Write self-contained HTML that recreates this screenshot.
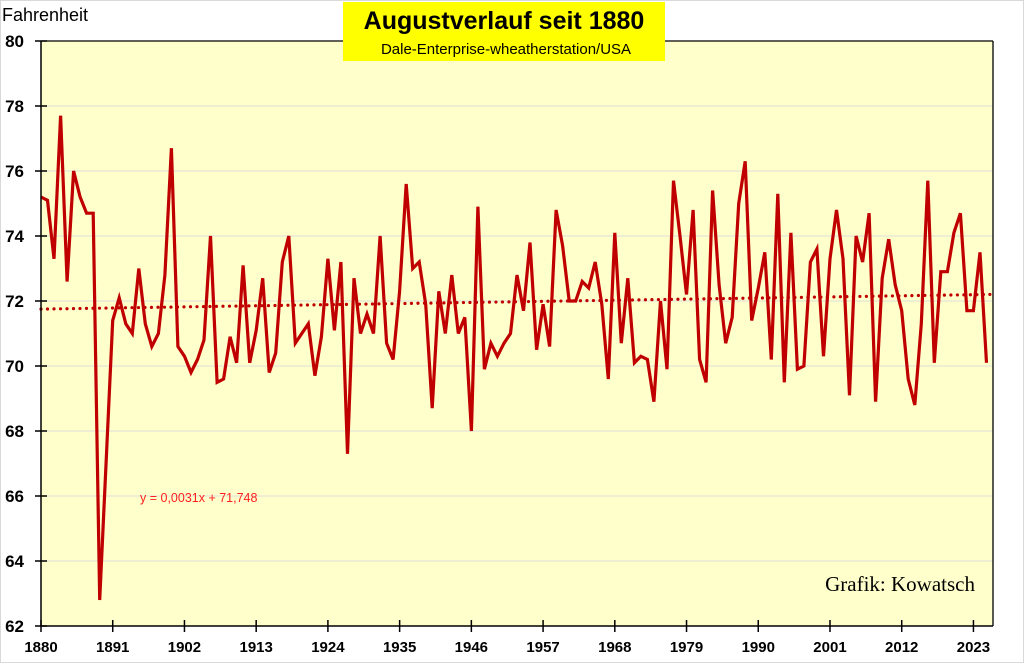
<!DOCTYPE html>
<html><head><meta charset="utf-8">
<style>
html,body{margin:0;padding:0;background:#fff;}
svg{display:block;font-family:"Liberation Sans",sans-serif;}
</style></head>
<body>
<svg id="chart" width="1024" height="663" viewBox="0 0 1024 663" xmlns="http://www.w3.org/2000/svg">
<rect x="0.5" y="0.5" width="1023" height="662" fill="#fff" stroke="#d9d9d9"/>
<rect x="41" y="41" width="952" height="585" fill="#FFFFCC"/>
<g id="grid"></g>
<g id="trend"></g>
<g id="series"></g>
<line x1="41" y1="41" x2="993" y2="41" stroke="#000" stroke-width="1.3"/>
<line x1="993" y1="41" x2="993" y2="626" stroke="#000" stroke-width="1.3"/>
<line x1="41" y1="41" x2="41" y2="626" stroke="#000" stroke-width="1.5"/>
<line x1="41" y1="626" x2="993" y2="626" stroke="#000" stroke-width="1.5"/>
<g id="yaxis"></g>
<g id="xaxis"></g>
<text x="2" y="21" font-size="18" fill="#000">Fahrenheit</text>
<rect x="343" y="2" width="322" height="59" fill="#ffff00"/>
<text x="504" y="29" font-size="25" font-weight="bold" text-anchor="middle" fill="#000">Augustverlauf seit 1880</text>
<text x="506" y="54" font-size="15" text-anchor="middle" fill="#000">Dale-Enterprise-wheatherstation/USA</text>
<text x="140" y="502" font-size="12.5" fill="#ff2020">y = 0,0031x + 71,748</text>
<text x="975" y="591" font-size="21" text-anchor="end" font-family="Liberation Serif,serif" fill="#000">Grafik: Kowatsch</text>
</svg>
<script>
const startYear = 1880;
const values = [75.2,75.1,73.3,77.7,72.6,76.0,75.2,74.7,74.7,62.8,67.1,71.4,72.1,71.3,71.0,73.0,71.3,70.6,71.0,72.8,
76.7,70.6,70.3,69.8,70.2,70.8,74.0,69.5,69.6,70.9,70.1,73.1,70.1,71.1,72.7,69.8,70.4,73.2,74.0,70.7,
71.0,71.3,69.7,70.9,73.3,71.1,73.2,67.3,72.7,71.0,71.6,71.0,74.0,70.7,70.2,72.3,75.6,73.0,73.2,71.9,
68.7,72.3,71.0,72.8,71.0,71.5,68.0,74.9,69.9,70.7,70.3,70.7,71.0,72.8,71.7,73.8,70.5,71.9,70.6,74.8,
73.7,72.0,72.0,72.6,72.4,73.2,71.9,69.6,74.1,70.7,72.7,70.1,70.3,70.2,68.9,72.0,69.9,75.7,74.0,72.2,
74.8,70.2,69.5,75.4,72.5,70.7,71.5,75.0,76.3,71.4,72.4,73.5,70.2,75.3,69.5,74.1,69.9,70.0,73.2,73.6,
70.3,73.3,74.8,73.3,69.1,74.0,73.2,74.7,68.9,72.7,73.9,72.5,71.7,69.6,68.8,71.3,75.7,70.1,72.9,72.9,
74.1,74.7,71.7,71.7,73.5,70.1];
const yTicks = [62,64,66,68,70,72,74,76,78,80];
const xTickYears = [1880,1891,1902,1913,1924,1935,1946,1957,1968,1979,1990,2001,2012,2023];
const trendSlope = 0.0031;
const trendIntercept = 71.748;

const NS = "http://www.w3.org/2000/svg";
const L = 41, T = 41, B = 626, step = 952/146;
const yMin = 62, yMax = 80;
function xs(i){ return L + i*step; }
function ys(v){ return B - (v - yMin)/(yMax - yMin)*(B - T); }
function mk(tag, attrs, parent){ const e=document.createElementNS(NS,tag); for(const k in attrs) e.setAttribute(k,attrs[k]); parent.appendChild(e); return e; }

const grid=document.getElementById('grid'), ya=document.getElementById('yaxis'), xa=document.getElementById('xaxis');
yTicks.forEach(v=>{
  const y=ys(v);
  if(v>yMin && v<yMax){
    const g=mk('line',{x1:L,y1:y,x2:993,y2:y,stroke:'#e3e3d6','stroke-width':1.3},grid);
    
    
  }
  const t=mk('line',{x1:35,y1:y,x2:47,y2:y,stroke:'#000','stroke-width':1.5},ya);
  
  
  const lb=mk('text',{x:24,y:y+6,'font-size':17,'font-weight':'bold','text-anchor':'end',fill:'#000'},ya);
  lb.textContent=v;
  
  
});
xTickYears.forEach(yr=>{
  const x=xs(yr-startYear);
  const t=mk('line',{x1:x,y1:620,x2:x,y2:632,stroke:'#000','stroke-width':1.5},xa);
  
  
  const lb=mk('text',{x:x,y:652,'font-size':15,'font-weight':'bold','text-anchor':'middle',fill:'#000'},xa);
  lb.textContent=yr;
  
  
});
const n=values.length;
const tr=mk('line',{x1:xs(0),y1:ys(trendIntercept+trendSlope*1),x2:xs(n-1)+step,y2:ys(trendIntercept+trendSlope*(n+1)),stroke:'#c00000','stroke-width':3.2,'stroke-dasharray':'0 6.5','stroke-linecap':'round'},document.getElementById('trend'));


const pts=values.map((v,i)=>xs(i).toFixed(1)+','+ys(v).toFixed(1)).join(' ');
const pl=mk('polyline',{points:pts,fill:'none',stroke:'#c00000','stroke-width':3.2,'stroke-linejoin':'miter','stroke-miterlimit':4},document.getElementById('series'));


</script>
</body></html>
